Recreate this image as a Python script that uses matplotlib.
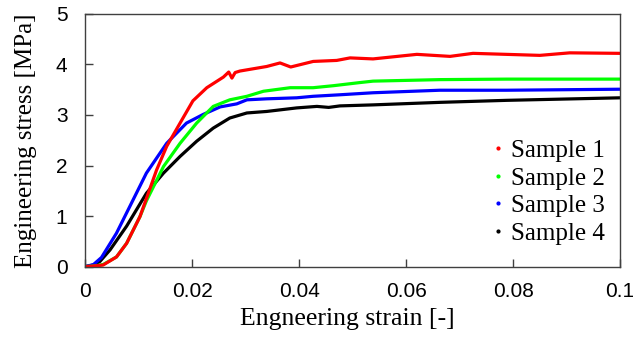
import matplotlib
matplotlib.use("Agg")
import matplotlib.pyplot as plt
from matplotlib.lines import Line2D

# values
strain_s1 = [0.0, 0.0015, 0.0033, 0.0058, 0.0077, 0.0102, 0.0133, 0.0152, 0.0177, 0.0201,
             0.0227, 0.0258, 0.0268, 0.0274, 0.0280, 0.0289, 0.0339, 0.0364, 0.0384,
             0.0426, 0.047, 0.0495, 0.0538, 0.062, 0.0682, 0.0725, 0.085, 0.0906, 0.1]
stress_s1 = [0.0, 0.01, 0.03, 0.19, 0.46, 0.99, 1.91, 2.38, 2.84, 3.28,
             3.54, 3.75, 3.85, 3.73, 3.84, 3.87, 3.96, 4.03, 3.95,
             4.06, 4.08, 4.13, 4.11, 4.20, 4.16, 4.22, 4.18, 4.23, 4.22]

strain_s2 = [0.0, 0.0015, 0.0033, 0.0058, 0.0077, 0.0102, 0.0114, 0.0146, 0.0177, 0.0208,
             0.0239, 0.027, 0.0302, 0.0333, 0.0383, 0.0426, 0.0464, 0.0512, 0.0538,
             0.0663, 0.0788, 0.1]
stress_s2 = [0.0, 0.01, 0.04, 0.19, 0.46, 0.99, 1.30, 1.98, 2.44, 2.84,
             3.17, 3.30, 3.37, 3.47, 3.54, 3.54, 3.58, 3.64, 3.67,
             3.70, 3.71, 3.71]

strain_s3 = [0.0, 0.0015, 0.003, 0.0058, 0.0083, 0.0114, 0.0152, 0.0189, 0.022, 0.0252,
             0.0283, 0.0302, 0.0339, 0.0395, 0.0426, 0.0476, 0.0538, 0.0663, 0.0788, 0.1]
stress_s3 = [0.0, 0.04, 0.18, 0.66, 1.19, 1.85, 2.44, 2.84, 3.01, 3.16,
             3.22, 3.30, 3.32, 3.34, 3.37, 3.40, 3.44, 3.49, 3.49, 3.51]

strain_s4 = [0.0, 0.0015, 0.0027, 0.0046, 0.0077, 0.0114, 0.0146, 0.0177, 0.0208, 0.0239,
             0.027, 0.0302, 0.0339, 0.0395, 0.0433, 0.0455, 0.0476, 0.0538, 0.0663,
             0.0788, 0.1]
stress_s4 = [0.0, 0.03, 0.10, 0.33, 0.80, 1.45, 1.85, 2.18, 2.48, 2.74,
             2.94, 3.04, 3.07, 3.14, 3.17, 3.15, 3.18, 3.20, 3.25,
             3.29, 3.34]

labels = ["Sample 1", "Sample 2", "Sample 3", "Sample 4"]
colors = ["#ff0000", "#00ff00", "#0000ff", "#000000"]

serif = "Liberation Serif"
sans = "Liberation Sans"

fig = plt.figure(figsize=(6.33, 3.4), dpi=100)
ax = fig.add_axes([0.135, 0.216, 0.8445, 0.743])

series = [(strain_s1, stress_s1), (strain_s2, stress_s2),
          (strain_s3, stress_s3), (strain_s4, stress_s4)]
# black first so colored curves sit on top like the original
for (x, y), c in zip(series[::-1], colors[::-1]):
    ax.plot(x, y, color=c, lw=2.3, solid_capstyle="round", solid_joinstyle="round")

ax.set_xlim(0, 0.1)
ax.set_ylim(0, 5)
ax.set_xticks([0, 0.02, 0.04, 0.06, 0.08, 0.1])
ax.set_xticklabels(["0", "0.02", "0.04", "0.06", "0.08", "0.1"])
ax.set_yticks([0, 1, 2, 3, 4, 5])
ax.tick_params(direction="in", length=6, width=1, colors="#404040",
               labelcolor="black", labelsize=15)
ax.tick_params(axis="x", pad=11)
ax.tick_params(axis="y", pad=13)
ax.tick_params(top=False, right=False)
for lab in ax.get_xticklabels() + ax.get_yticklabels():
    lab.set_fontfamily(sans)
for s in ax.spines.values():
    s.set_color("#404040")
    s.set_linewidth(1.0)

ax.set_xlabel("Engneering strain [-]", fontfamily=serif, fontsize=18.5)
ax.set_ylabel("Engineering stress [MPa]", fontfamily=serif, fontsize=18)
ax.xaxis.set_label_coords(0.49, -0.163)
ax.yaxis.set_label_coords(-0.09, 0.5)

handles = [Line2D([], [], color=c, marker=".", ls="none", markersize=4) for c in colors]
ax.legend(handles, labels, loc="upper left", bbox_to_anchor=(0.775, 0.589),
          bbox_transform=fig.transFigure, frameon=False, handlelength=0.6,
          handletextpad=0.22, labelspacing=0.2, borderaxespad=0, borderpad=0,
          prop={"family": serif, "size": 18})

fig.savefig("out.png", dpi=100)
